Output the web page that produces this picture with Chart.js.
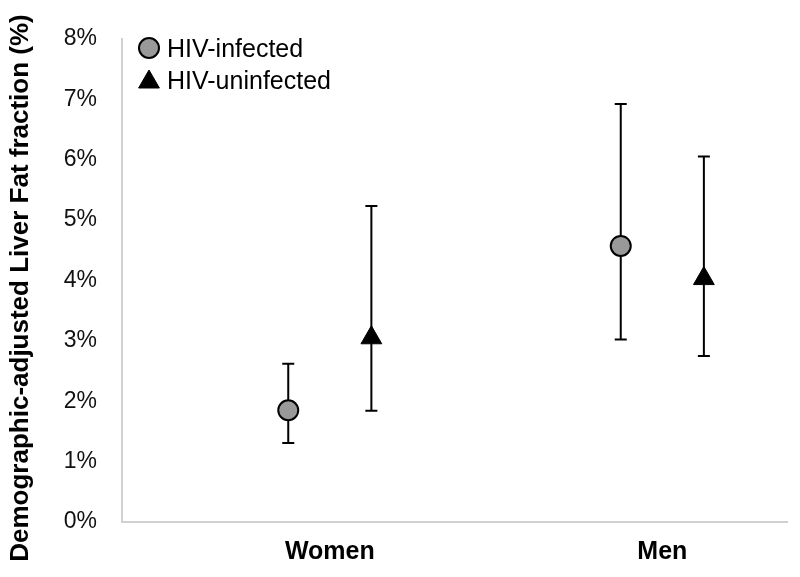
<!DOCTYPE html>
<html>
<head>
<meta charset="utf-8">
<title>Liver fat fraction</title>
<script src="https://cdn.jsdelivr.net/npm/chart.js@4/dist/chart.umd.min.js"></script>
<style>
  body { margin: 0; background: #fff; }
  #wrap { width: 800px; height: 577px; position: relative; }
</style>
</head>
<body>
<div id="wrap"><canvas id="chart"></canvas></div>
<script>
const categories = ['Women', 'Men'];
const seriesNames = ['HIV-infected', 'HIV-uninfected'];
const yTitle = 'Demographic-adjusted Liver Fat fraction (%)';

// adjusted liver fat fraction (%) with error bar limits
const infectedMean = [1.85, 4.57];
const infectedLow = [1.31, 3.02];
const infectedHigh = [2.62, 6.92];
const uninfectedMean = [3.05, 4.03];
const uninfectedLow = [1.84, 2.75];
const uninfectedHigh = [5.23, 6.05];

const yTicks = [0, 1, 2, 3, 4, 5, 6, 7, 8];

const FONT = "'Liberation Sans', Arial, sans-serif";

// each category sits at 1.25 + 2*i on the x scale, series left/right of it
function points(values, shift) {
    return values.map((v, i) => ({ x: 1.25 + 2 * i + shift, y: v }));
}

// Draw the error bars behind the markers
const errorBars = {
    id: 'errorBars',
    beforeDatasetsDraw(chart) {
        const ctx = chart.ctx;
        const xs = chart.scales.x, ys = chart.scales.y;
        ctx.save();
        ctx.strokeStyle = '#000';
        ctx.lineWidth = 2;
        chart.data.datasets.forEach(ds => {
            ds.data.forEach((p, i) => {
                const px = xs.getPixelForValue(p.x);
                const lo = ys.getPixelForValue(ds.low[i]);
                const hi = ys.getPixelForValue(ds.high[i]);
                ctx.beginPath();
                ctx.moveTo(px, lo); ctx.lineTo(px, hi);
                ctx.moveTo(px - 6, lo); ctx.lineTo(px + 6, lo);
                ctx.moveTo(px - 6, hi); ctx.lineTo(px + 6, hi);
                ctx.stroke();
            });
        });
        ctx.restore();
    }
};

// Legend inside the plot (top-left) and the rotated y title
const pointLegend = {
    id: 'pointLegend',
    afterDraw(chart) {
        const ctx = chart.ctx;
        const left = chart.chartArea.left;
        ctx.save();
        chart.data.datasets.forEach((ds, i) => {
            const cy = 48 + i * 34;
            ctx.fillStyle = ds.backgroundColor;
            ctx.strokeStyle = ds.borderColor;
            ctx.lineWidth = ds.borderWidth;
            Chart.helpers.drawPoint(ctx, {
                pointStyle: ds.pointStyle, radius: ds.pointRadius,
                borderWidth: ds.borderWidth, rotation: 0
            }, left + 27, cy);
            ctx.fillStyle = '#000';
            ctx.font = '25px ' + FONT;
            ctx.textBaseline = 'middle';
            ctx.textAlign = 'left';
            ctx.fillText(ds.label, left + 45, 50 + i * 32);
        });

        ctx.translate(21, 288);
        ctx.rotate(-Math.PI / 2);
        ctx.font = 'bold 26px ' + FONT;
        ctx.textAlign = 'center';
        ctx.textBaseline = 'middle';
        ctx.fillStyle = '#000';
        ctx.fillText(yTitle, 0, 0);
        ctx.restore();
    }
};

new Chart(document.getElementById('chart'), {
    type: 'scatter',
    data: {
        datasets: [{
            label: seriesNames[0],
            data: points(infectedMean, -0.25),
            low: infectedLow,
            high: infectedHigh,
            pointStyle: 'circle',
            pointRadius: 10,
            backgroundColor: '#999999',
            borderColor: '#000',
            borderWidth: 2
        }, {
            label: seriesNames[1],
            data: points(uninfectedMean, 0.25),
            low: uninfectedLow,
            high: uninfectedHigh,
            pointStyle: 'triangle',
            pointRadius: 12,
            backgroundColor: '#000',
            borderColor: '#000',
            borderWidth: 1
        }]
    },
    options: {
        responsive: true,
        maintainAspectRatio: false,
        animation: false,
        layout: { padding: { top: 34, right: 11, bottom: 0, left: 0 } },
        plugins: {
            legend: { display: false },
            tooltip: { enabled: false }
        },
        scales: {
            x: {
                type: 'linear',
                min: 0,
                max: 4,
                grid: { display: false, drawTicks: false },
                border: { color: '#d0d0d0', width: 2 },
                afterBuildTicks: s => { s.ticks = categories.map((c, i) => ({ value: 1.25 + 2 * i })); },
                afterFit: s => { s.height = 55; },
                ticks: {
                    autoSkip: false,
                    maxRotation: 0,
                    padding: 15,
                    color: '#000',
                    font: { family: FONT, size: 25, weight: 'bold' },
                    callback: v => categories[Math.round((v - 1.25) / 2)]
                }
            },
            y: {
                min: 0,
                max: 8,
                grid: { display: false, drawTicks: false },
                border: { color: '#d0d0d0', width: 2 },
                afterBuildTicks: s => { s.ticks = yTicks.map(v => ({ value: v })); },
                afterFit: s => { s.width = 122; },
                ticks: {
                    padding: 25,
                    color: '#111',
                    font: { family: FONT, size: 23 },
                    callback: v => v + '%'
                }
            }
        }
    },
    plugins: [errorBars, pointLegend]
});
</script>
</body>
</html>
